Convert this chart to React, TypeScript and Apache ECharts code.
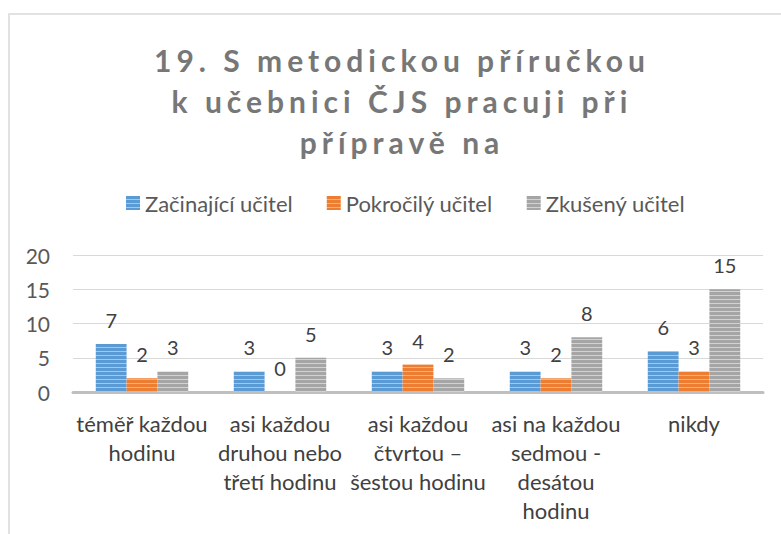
import React, { useEffect, useRef } from 'react';
import * as echarts from 'echarts';

const titleText = '19. S metodickou příručkou\nk učebnici ČJS pracuji při\npřípravě na';
const categories = [
  'téměř každou\nhodinu',
  'asi každou\ndruhou nebo\ntřetí hodinu',
  'asi každou\nčtvrtou –\nšestou hodinu',
  'asi na každou\nsedmou -\ndesátou\nhodinu',
  'nikdy',
];
const seriesNames = ['Začinající učitel', 'Pokročilý učitel', 'Zkušený učitel'];
const beginnerValues = [7, 3, 3, 3, 6];
const advancedValues = [2, 0, 4, 2, 3];
const experiencedValues = [3, 5, 2, 8, 15];
const seriesValues = [beginnerValues, advancedValues, experiencedValues];
const baseColors = ['#5b9bd5', '#ed7d31', '#a5a5a5'];
const lightColors = ['#a3c6e9', '#f4b083', '#d2d2d2'];

const FONT = 'Lato, "Open Sans", sans-serif';

function stripe(base: string, light: string) {
  const c = document.createElement('canvas');
  c.width = 4;
  c.height = 4;
  const ctx = c.getContext('2d')!;
  ctx.fillStyle = base;
  ctx.fillRect(0, 0, 4, 4);
  ctx.fillStyle = light;
  ctx.fillRect(0, 3, 4, 1);
  return { image: c.toDataURL(), repeat: 'repeat', imageWidth: 4, imageHeight: 4 };
}

export default function App() {
  const ref = useRef<HTMLDivElement>(null);
  useEffect(() => {
    if (!ref.current) return;
    const chart = echarts.init(ref.current, null, { renderer: 'svg' });
    const series = seriesNames.map((name, i) => ({
      name,
      type: 'bar',
      data: seriesValues[i],
      barGap: '0%',
      barCategoryGap: '33%',
      itemStyle: { color: stripe(baseColors[i], lightColors[i]) as any },
      label: {
        show: true,
        position: 'top',
        distance: 14,
        color: '#404040',
        fontSize: 20,
        fontFamily: FONT,
      },
    }));
    chart.setOption({
      animation: false,
      backgroundColor: '#ffffff',
      legend: {
        left: 126,
        top: 192,
        padding: 0,
        itemWidth: 14,
        itemHeight: 14,
        itemGap: 34,
        icon: 'rect',
        textStyle: { fontFamily: FONT, fontSize: 22, color: '#595959' },
        data: seriesNames,
      },
      graphic: [
        {
          type: 'rect',
          z: -10,
          shape: { x: 9, y: 14, width: 900, height: 700 },
          style: { fill: 'none', stroke: '#d9d9d9', lineWidth: 1.5 },
        },
        {
          type: 'text',
          x: 402,
          y: 39,
          style: {
            text: titleText,
            textAlign: 'center',
            textVerticalAlign: 'top',
            fontFamily: FONT,
            fontWeight: 'bold',
            fontSize: 30,
            lineHeight: 41,
            fill: '#777777',
          },
        },
      ],
      grid: { left: 73, right: 18, top: 255, bottom: 142, containLabel: false },
      xAxis: {
        type: 'category',
        data: categories,
        axisLine: { show: true, lineStyle: { color: '#bfbfbf', width: 3 } },
        axisTick: { show: false },
        axisLabel: {
          interval: 0,
          margin: 17,
          fontFamily: FONT,
          fontSize: 22,
          lineHeight: 29,
          color: '#404040',
        },
      },
      yAxis: {
        type: 'value',
        min: 0,
        max: 20,
        interval: 5,
        axisLine: { show: false },
        axisTick: { show: false },
        splitLine: { lineStyle: { color: '#d9d9d9', width: 1 } },
        axisLabel: { margin: 23, fontFamily: FONT, fontSize: 21, color: '#595959' },
      },
      series,
    });
    return () => chart.dispose();
  }, []);
  return (
    <>
      <style>{`.chartbox text[style*="bold"] { letter-spacing: 5px; }`}</style>
      <div
        ref={ref}
        className="chartbox"
        style={{ position: 'fixed', left: 0, top: 0, width: 781, height: 534, background: '#fff' }}
      />
    </>
  );
}
